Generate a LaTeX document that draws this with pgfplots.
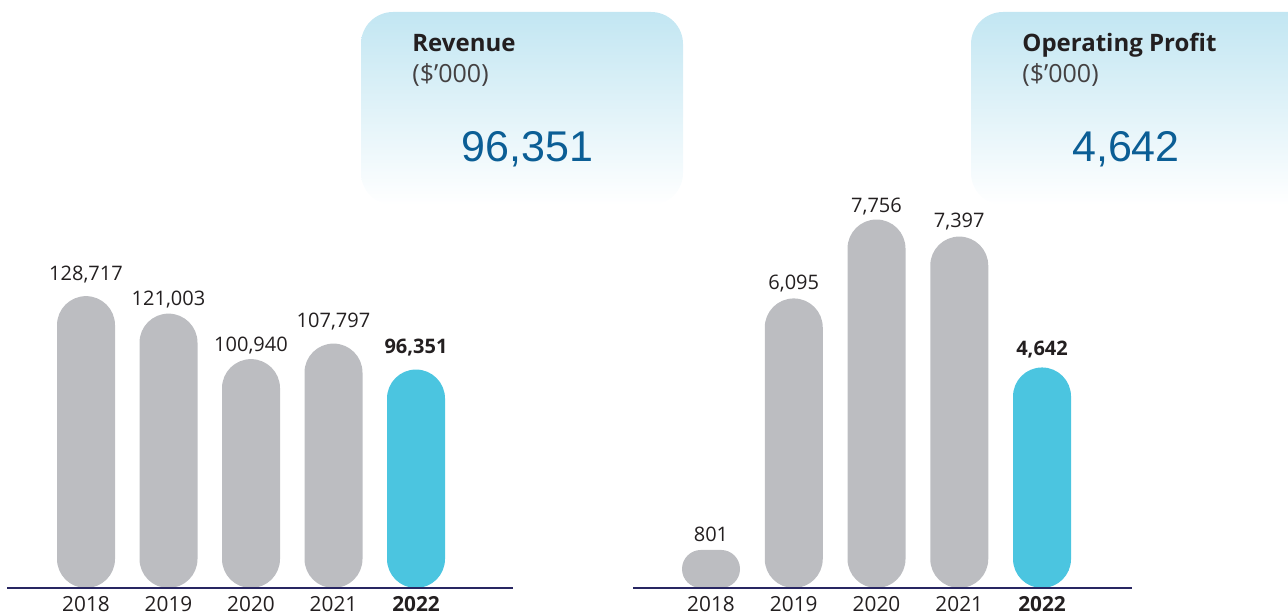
\documentclass[border=0pt]{standalone}
\usepackage{fontspec}
\setmainfont{Open Sans}
\newfontfamily\numfont{Liberation Sans}
\usepackage{pgfplots}
\usepackage{pgfplotstable}
\pgfplotsset{compat=1.18}

\definecolor{bargray}{RGB}{188,189,193}
\definecolor{barcyan}{RGB}{75,197,224}
\definecolor{navyline}{RGB}{40,38,98}
\definecolor{labeltext}{RGB}{35,31,32}
\definecolor{bignum}{RGB}{11,94,149}
\definecolor{boxtop}{RGB}{194,230,242}

% x = category, y = value, lab = printed label, off = label centre above bar top (px)
\pgfplotstableread{
x y lab off
0 128717 128,717 23.5
1 121003 121,003 16
2 100940 100,940 15.5
3 107797 107,797 23.5
}\revgray
\pgfplotstableread{
x y lab off
4 96351 96,351 23.5
}\revcur
\pgfplotstableread{
x y lab off
1 6095 6,095 16.5
2 7756 7,756 14.5
3 7397 7,397 16.5
}\opgray
\pgfplotstableread{
x y lab off
0 801 801 15.5
}\opsmall
\pgfplotstableread{
x y lab off
4 4642 4,642 19.5
}\opcur

\pgfplotsset{
  pillchart/.style={
    scale only axis, height=194pt, ymin=0, clip=false,
    axis on top,
    axis x line=bottom, axis y line=none,
    x axis line style={-, draw=navyline, line width=1pt},
    xtick={0,...,4},
    xticklabels={2018,2019,2020,2021,\textbf{2022}},
    xtick style={draw=none}, major tick length=0pt,
    xticklabel style={anchor=base, yshift=-11.5pt, inner sep=0pt,
      font=\fontsize{10.4}{12}\selectfont, text=labeltext},
    ybar, bar width=29pt, bar shift=0pt,
    point meta=explicit symbolic,
    visualization depends on={\thisrow{off} \as \off},
    nodes near coords={\pgfplotspointmeta},
    every node near coord/.append style={anchor=base, inner sep=0pt,
      yshift={(\off-7.5)*0.5pt}, font=\fontsize{10}{12}\selectfont,
      text=labeltext},
  },
}

\begin{document}
\begin{tikzpicture}
\path[use as bounding box] (0pt,0pt) rectangle (644pt,-307pt);

% info boxes
\shade[top color=boxtop, bottom color=white, rounded corners=16pt]
  (180.5pt,-6pt) rectangle (341.5pt,-102.5pt);
\shade[top color=boxtop, bottom color=white, rounded corners=16pt]
  (485.5pt,-6pt) rectangle (660pt,-102.5pt);

\node[anchor=base west, inner sep=0pt, font=\fontsize{12}{14}\selectfont\bfseries, text=labeltext]
  at (206pt,-26pt) {Revenue};
\node[anchor=base west, inner sep=0pt, font=\fontsize{12.5}{14}\selectfont, text=labeltext!85]
  at (206pt,-41.5pt) {(\$’000)};
\node[anchor=base, inner sep=0pt, font=\numfont\fontsize{21.5}{24}\selectfont, text=bignum]
  at (263.75pt,-81pt) {96,351};

\node[anchor=base west, inner sep=0pt, font=\fontsize{12}{14}\selectfont\bfseries, text=labeltext]
  at (511pt,-26pt) {Operating Profit};
\node[anchor=base west, inner sep=0pt, font=\fontsize{12.5}{14}\selectfont, text=labeltext!85]
  at (511pt,-41.5pt) {(\$’000)};
\node[anchor=base, inner sep=0pt, font=\numfont\fontsize{21.5}{24}\selectfont, text=bignum]
  at (563pt,-81pt) {4,642};

% Revenue
\begin{axis}[pillchart,
  at={(3.5pt,-294pt)}, anchor=south west,
  width=253pt, xmin=-0.9576, xmax=5.1758, ymax=171108]
  \addplot[fill=bargray, draw=none, rounded corners=14.5pt]
    table[x=x, y=y, meta=lab] {\revgray};
  \addplot[fill=barcyan, draw=none, rounded corners=14.5pt,
    every node near coord/.append style={font=\fontsize{10}{12}\selectfont\bfseries}]
    table[x=x, y=y, meta=lab] {\revcur};
\end{axis}

% Operating profit
\begin{axis}[pillchart,
  at={(316.5pt,-294pt)}, anchor=south west,
  width=249.5pt, xmin=-0.9426, xmax=5.0876, ymax=8167]
  \addplot[fill=bargray, draw=none, rounded corners=14.5pt]
    table[x=x, y=y, meta=lab] {\opgray};
  \addplot[fill=bargray, draw=none, rounded corners=9.5pt]
    table[x=x, y=y, meta=lab] {\opsmall};
  \addplot[fill=barcyan, draw=none, rounded corners=14.5pt,
    every node near coord/.append style={font=\fontsize{10}{12}\selectfont\bfseries}]
    table[x=x, y=y, meta=lab] {\opcur};
\end{axis}
\end{tikzpicture}
\end{document}
